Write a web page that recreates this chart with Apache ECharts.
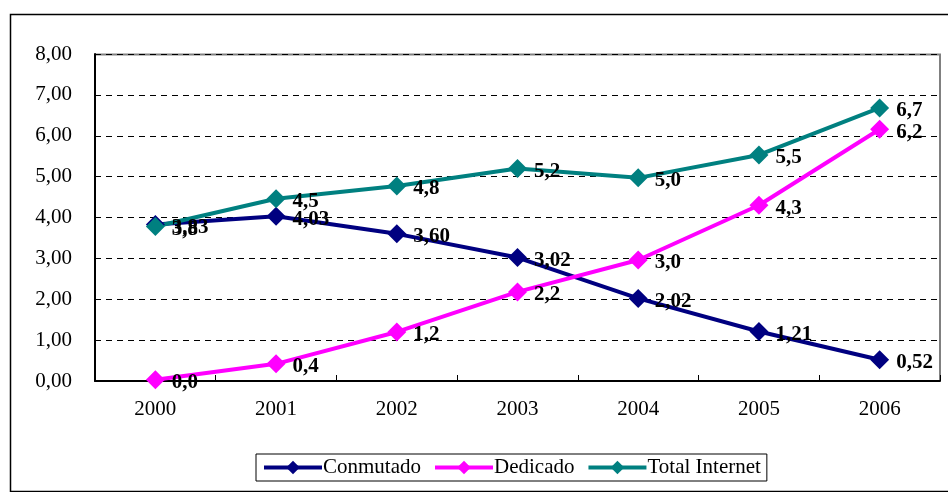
<!DOCTYPE html>
<html>
<head>
<meta charset="utf-8">
<script src="https://cdn.jsdelivr.net/npm/echarts@6/dist/echarts.min.js"></script>
<style>
html, body { margin: 0; padding: 0; background: #fff; }
#chart { width: 948px; height: 492px; }
</style>
</head>
<body>
<div id="chart"></div>
<script>
// datos
const years = ['2000', '2001', '2002', '2003', '2004', '2005', '2006']
const conmutado = [3.83, 4.03, 3.60, 3.02, 2.02, 1.21, 0.52]
const dedicado = [0.03, 0.42, 1.2, 2.18, 2.96, 4.3, 6.16]
const totalInternet = [3.78, 4.46, 4.77, 5.2, 4.97, 5.53, 6.68]

const serif = 'Liberation Serif, Times New Roman, serif'

function coma(v, d) {
    return v.toFixed(d).replace('.', ',')
}

function makeSeries(name, data, color, decimals) {
    return {
        name,
        type: 'line',
        data,
        symbol: 'diamond',
        symbolSize: 19,
        lineStyle: { color, width: 4 },
        itemStyle: { color },
        label: {
            show: true,
            position: 'right',
            distance: 7,
            offset: [0, 3],
            color: '#000',
            fontFamily: serif,
            fontWeight: 'bold',
            fontSize: 21,
            formatter: p => coma(p.value, decimals)
        },
        animation: false
    }
}

const chart = echarts.init(document.getElementById('chart'))
chart.setOption({
    backgroundColor: '#fff',
    graphic: [{
        type: 'rect',
        shape: { x: 10.5, y: 14.5, width: 960, height: 477 },
        style: { fill: 'none', stroke: '#000', lineWidth: 1.5 },
        silent: true
    }, {
        // borde superior y derecho del área de trazado
        type: 'polyline',
        shape: { points: [[95, 54.5], [940, 54.5], [940, 381]] },
        style: { stroke: '#808080', lineWidth: 2, fill: 'none' },
        silent: true
    }],
    legend: {
        left: 256,
        top: 454,
        itemWidth: 58,
        itemHeight: 17,
        itemGap: 12,
        padding: [3, 6, 3, 6],
        borderColor: '#000',
        borderWidth: 1,
        lineStyle: { width: 4 },
        textStyle: { fontFamily: serif, fontSize: 21, color: '#000', padding: [0, 0, 0, -4] },
        data: ['Conmutado', 'Dedicado', 'Total Internet']
    },
    grid: { left: 95, top: 54, right: 8, bottom: 111 },
    xAxis: {
        type: 'category',
        data: years,
        boundaryGap: true,
        axisLine: { lineStyle: { color: '#000', width: 2 } },
        axisTick: { show: true, inside: true, length: 6, lineStyle: { color: '#000' } },
        axisLabel: { margin: 18, fontFamily: serif, fontSize: 21, color: '#000' }
    },
    yAxis: {
        type: 'value',
        min: 0,
        max: 8,
        interval: 1,
        axisLine: { show: true, lineStyle: { color: '#000', width: 2 } },
        axisTick: { show: false },
        axisLabel: {
            margin: 23,
            fontFamily: serif,
            fontSize: 21,
            color: '#000',
            formatter: v => coma(v, 2)
        },
        splitLine: { lineStyle: { color: '#000', type: [6, 5], width: 1 } }
    },
    series: [
        makeSeries('Conmutado', conmutado, '#000080', 2),
        makeSeries('Dedicado', dedicado, '#ff00ff', 1),
        makeSeries('Total Internet', totalInternet, '#008080', 1)
    ]
})
</script>
</body>
</html>
